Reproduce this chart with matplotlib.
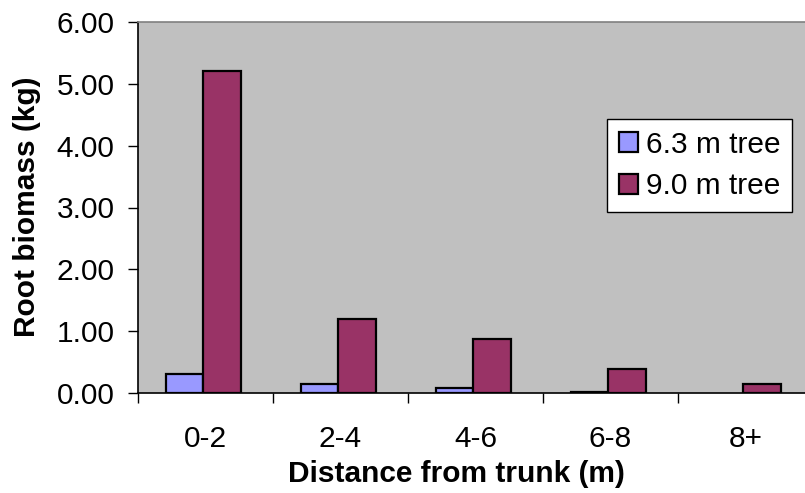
import matplotlib
matplotlib.use("Agg")
import matplotlib.pyplot as plt
import numpy as np

# distance classes and root biomass (kg) per tree
categories = ["0-2", "2-4", "4-6", "6-8", "8+"]
tree_63 = [0.31, 0.14, 0.075, 0.02, 0.0]
tree_90 = [5.20, 1.19, 0.87, 0.39, 0.145]
series_names = ["6.3 m tree", "9.0 m tree"]
yticks = [0, 1, 2, 3, 4, 5, 6]

plt.rcParams['font.family'] = ['Liberation Sans', 'DejaVu Sans']
FS = 21.5

W, H = 805, 493
fig = plt.figure(figsize=(W / 100, H / 100), dpi=100)
fig.patch.set_facecolor("white")

# axes runs slightly past the right edge, as in the source image
left, bottom, top = 138, 393, 22
cat_w = 135
ax = fig.add_axes([left / W, (H - bottom) / H, len(categories) * cat_w / W, (bottom - top) / H])
ax.set_facecolor("#c0c0c0")

x = np.arange(len(categories))
bw = 0.28
shift = -0.015
b1 = ax.bar(x + shift - bw / 2, tree_63, bw, color="#9999ff", edgecolor="black", linewidth=1.6,
            label=series_names[0], zorder=3)
b2 = ax.bar(x + shift + bw / 2, tree_90, bw, color="#993366", edgecolor="black", linewidth=1.6,
            label=series_names[1], zorder=3)
for p in list(b1) + list(b2):
    if p.get_height() == 0:
        p.set_visible(False)

ax.set_xlim(-0.5, len(categories) - 0.5)
ax.set_ylim(0, 6)
ax.set_yticks(yticks)
ax.set_yticklabels([f"{v:.2f}" for v in yticks], fontsize=FS)
ax.set_xticks(x)
ax.set_xticklabels(categories, fontsize=FS)
ax.tick_params(axis="x", length=0, pad=23)
ax.set_xticks(np.arange(len(categories)) - 0.5, minor=True)
ax.tick_params(axis="x", which="minor", length=7, width=1, color="black")
ax.tick_params(axis="y", length=7, width=1, pad=10, color="black")

for s in ("top", "right"):
    ax.spines[s].set_color("#808080")
    ax.spines[s].set_linewidth(1.2)
ax.spines["left"].set_color("black")
ax.spines["bottom"].set_color("black")
ax.spines["left"].set_linewidth(1.2)
ax.spines["bottom"].set_linewidth(1.2)

fig.text(456 / W, 1 - 474 / H, "Distance from trunk (m)", ha="center", va="center",
         fontsize=FS, fontweight="bold")
fig.text(27 / W, 1 - 207 / H, "Root biomass (kg)", ha="center", va="center",
         rotation=90, fontsize=FS, fontweight="bold")

leg = fig.legend(loc="upper left", bbox_to_anchor=(607 / W, 1 - 119 / H), fontsize=FS,
                 frameon=True, fancybox=False, edgecolor="black", framealpha=1,
                 handlelength=0.65, handleheight=0.65, handletextpad=0.25,
                 borderpad=0.4, labelspacing=0.45, borderaxespad=0)
leg.get_frame().set_linewidth(1.0)

fig.savefig("out.png", dpi=100)
